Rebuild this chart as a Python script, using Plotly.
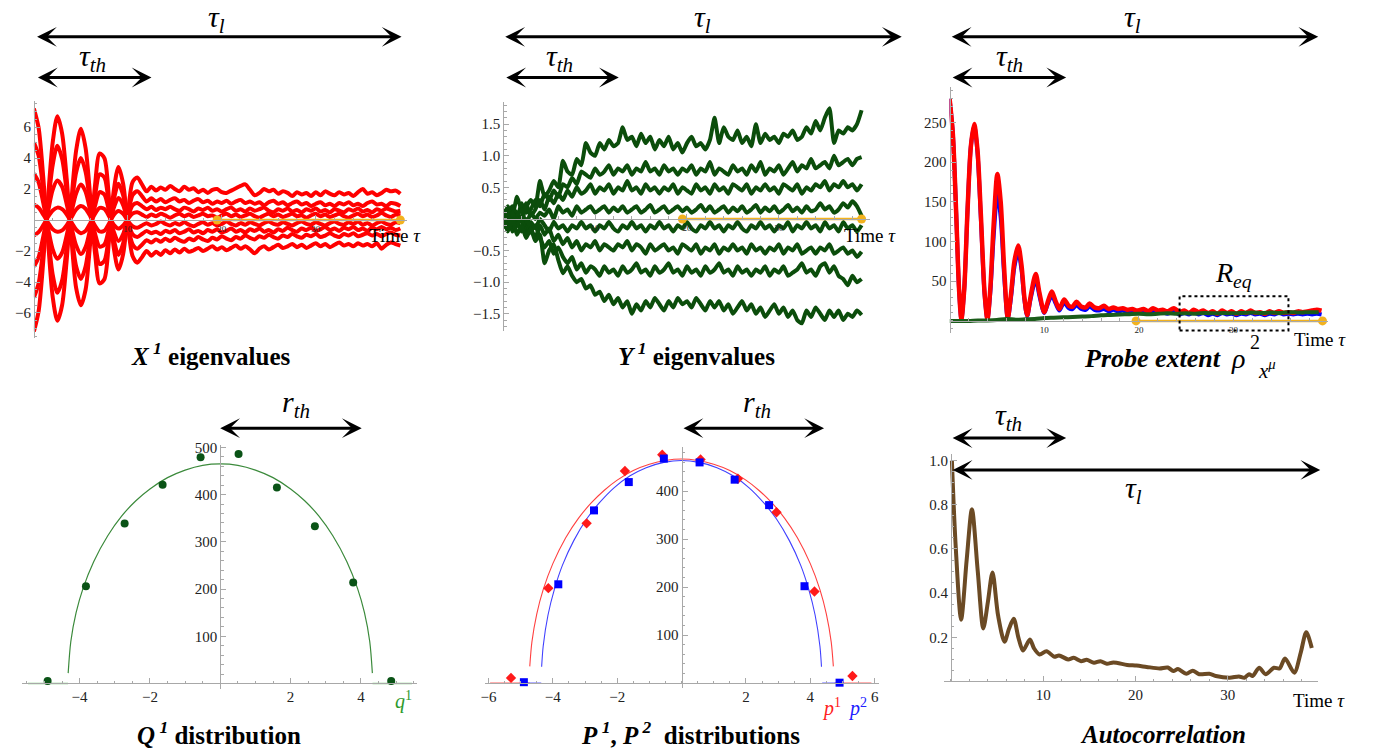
import plotly.graph_objects as go

# ---------------- data ----------------
T_X = [i * 0.5 for i in range(79)]          # sample times for X and Y eigenvalue curves

X1 = [7.2, 5.96, 2.73, -1.29, -4.96, -6.5, -5.5, -2.52, 1.30, 4.5, 5.9, 4.65, 1.46, -2.11, -4.09, -3.82, -1.28, 1.9, 3.43, 2.34, -0.31, -2.32,
      -2.75, -2.4, -2.0, -2.3, -2.05, -2.25, -1.95, -2.15, -1.9, -2.1,
      -1.85, -2.05, -1.95, -1.8, -2.0, -1.85, -1.7, -1.9, -1.75, -1.95,
      -1.8, -1.65, -1.85, -1.7, -1.9, -2.15, -1.85, -1.7, -1.9, -1.75,
      -1.6, -1.8, -1.7, -1.55, -1.75, -1.6, -1.8, -1.65, -1.5, -1.7,
      -1.55, -1.75, -1.6, -1.45, -1.65, -1.55, -1.7, -1.5, -1.65, -1.55,
      -1.7, -1.5, -1.85, -1.6, -1.45, -1.55, -1.65]
X2 = [-7.2, -5.9, -2.65, 1.35, 5.0, 6.7, 5.6, 2.6, -1.25, -4.4, -5.5, -4.5, -1.4, 2.2, 4.3, 4.0, 1.35, -1.8, -3.2, -2.2, 0.35, 2.45,
      2.75, 2.3, 1.85, 2.15, 1.9, 2.1, 1.95, 2.2, 2.0, 1.85,
      2.15, 1.95, 2.05, 1.8, 1.95, 1.75, 1.95, 2.0, 1.8, 1.75,
      1.9, 2.05, 2.2, 2.3, 1.95, 1.6, 1.75, 2.0, 1.85, 1.95,
      1.7, 1.85, 1.75, 1.55, 1.8, 1.65, 1.75, 1.55, 1.8, 1.6,
      1.85, 1.7, 1.6, 1.8, 1.65, 1.75, 1.55, 1.8, 2.0, 1.7,
      1.8, 1.6, 1.75, 1.95, 1.85, 1.9, 1.7]
X3 = [5.0, 4.16, 1.91, -0.91, -3.52, -4.7, -3.91, -1.76, 0.89, 3.08, 4.0, 3.11, 0.98, -1.43, -2.84, -2.64, -0.88, 1.3, 2.35, 1.6, -0.2, -1.56,
      -1.85, -1.6, -1.3, -1.45, -1.25, -1.4, -1.2, -1.35, -1.15, -1.3,
      -1.4, -1.2, -1.3, -1.1, -1.25, -1.35, -1.15, -1.25, -1.05, -1.2,
      -1.3, -1.1, -1.2, -1.0, -1.15, -1.25, -1.05, -1.15, -0.95, -1.1,
      -1.2, -1.0, -1.1, -0.9, -1.05, -1.15, -0.95, -1.05, -0.9, -1.1,
      -1.0, -0.85, -1.0, -1.1, -0.9, -1.0, -0.85, -1.05, -0.95, -0.85,
      -1.0, -0.9, -1.05, -0.9, -0.8, -0.95, -1.0]
X4 = [-5.0, -4.1, -1.85, 0.95, 3.55, 4.8, 3.95, 1.8, -0.85, -3.0, -3.8, -3.0, -0.95, 1.5, 2.95, 2.75, 0.92, -1.25, -2.25, -1.5, 0.22, 1.6,
      1.85, 1.55, 1.2, 1.4, 1.2, 1.35, 1.15, 1.3, 1.4, 1.2,
      1.3, 1.1, 1.25, 1.35, 1.15, 1.25, 1.05, 1.2, 1.1, 1.25,
      1.05, 1.2, 1.3, 1.1, 1.2, 1.05, 1.15, 0.95, 1.15, 1.25,
      1.05, 1.15, 0.95, 1.1, 1.2, 1.0, 1.1, 0.9, 1.05, 1.15,
      0.95, 1.05, 0.9, 1.1, 1.0, 1.15, 0.95, 1.05, 0.9, 1.1,
      1.2, 1.0, 1.05, 0.9, 1.1, 1.05, 0.9]
X5 = [3.0, 2.44, 1.09, -0.5, -1.89, -2.5, -2.11, -0.96, 0.49, 1.73, 2.3, 1.83, 0.57, -0.86, -1.72, -1.59, -0.53, 0.78, 1.42, 0.96, -0.12, -0.92,
      -1.1, -0.9, -0.7, -0.85, -0.75, -0.9, -0.7, -0.8, -0.65, -0.85,
      -0.75, -0.6, -0.8, -0.7, -0.85, -0.65, -0.75, -0.6, -0.8, -0.7,
      -0.55, -0.75, -0.65, -0.8, -0.6, -0.7, -0.55, -0.75, -0.65, -0.8,
      -0.6, -0.7, -0.5, -0.65, -0.75, -0.55, -0.65, -0.5, -0.7, -0.6,
      -0.45, -0.65, -0.55, -0.7, -0.5, -0.6, -0.45, -0.65, -0.55, -0.7,
      -0.5, -0.6, -0.45, -0.6, -0.5, -0.65, -0.55]
X6 = [-3.0, -2.4, -1.05, 0.52, 1.95, 2.55, 2.15, 1.0, -0.45, -1.65, -2.2, -1.75, -0.55, 0.9, 1.8, 1.65, 0.55, -0.75, -1.35, -0.9, 0.15, 0.95,
      1.1, 0.9, 0.7, 0.85, 0.65, 0.8, 0.7, 0.85, 0.7, 0.6,
      0.8, 0.7, 0.55, 0.75, 0.65, 0.8, 0.6, 0.7, 0.55, 0.7,
      0.8, 0.6, 0.7, 0.55, 0.75, 0.6, 0.7, 0.8, 0.6, 0.5,
      0.7, 0.6, 0.75, 0.55, 0.65, 0.5, 0.7, 0.6, 0.75, 0.55,
      0.65, 0.5, 0.7, 0.6, 0.5, 0.7, 0.6, 0.75, 0.55, 0.65,
      0.5, 0.7, 0.6, 0.75, 0.65, 0.55, 0.6]
X7 = [1.0, 0.8, 0.35, -0.16, -0.59, -0.75, -0.67, -0.33, 0.18, 0.68, 0.9, 0.73, 0.24, -0.36, -0.74, -0.69, -0.22, 0.33, 0.59, 0.4, -0.05, -0.4,
      -0.5, -0.35, -0.2, -0.35, -0.25, -0.1, -0.25, -0.35, -0.2, -0.3,
      -0.15, -0.3, -0.4, -0.25, -0.15, -0.3, -0.2, -0.35, -0.25, -0.1,
      -0.25, -0.35, -0.2, -0.3, -0.15, -0.25, -0.35, -0.2, -0.1, -0.25,
      -0.3, -0.15, -0.25, -0.35, -0.2, -0.1, -0.25, -0.3, -0.15, -0.25,
      -0.35, -0.2, -0.1, -0.25, -0.3, -0.15, -0.25, -0.1, -0.3, -0.2,
      -0.35, -0.2, -0.1, -0.25, -0.3, -0.15, -0.2]
X8 = [-1.0, -0.78, -0.33, 0.2, 0.62, 0.8, 0.7, 0.35, -0.15, -0.62, -0.85, -0.7, -0.2, 0.4, 0.78, 0.72, 0.25, -0.3, -0.55, -0.35, 0.08, 0.42,
      0.5, 0.35, 0.2, 0.35, 0.25, 0.4, 0.3, 0.15, 0.3, 0.4,
      0.25, 0.35, 0.2, 0.3, 0.4, 0.25, 0.3, 0.15, 0.3, 0.4,
      0.25, 0.35, 0.2, 0.3, 0.4, 0.25, 0.15, 0.3, 0.4, 0.25,
      0.35, 0.2, 0.3, 0.4, 0.25, 0.3, 0.15, 0.3, 0.4, 0.25,
      0.35, 0.2, 0.3, 0.4, 0.25, 0.15, 0.3, 0.4, 0.25, 0.35,
      0.2, 0.3, 0.45, 0.3, 0.2, 0.35, 0.3]

Y1 = [0.05, 0.15, 0.05, 0.35, 0.15, 0.2, 0.3, 0.2, 0.6, 0.35,
      0.45, 0.6, 0.5, 0.92, 0.75, 0.7, 0.95, 0.85, 1.2, 1.05,
      1.0, 1.2, 1.1, 1.25, 1.15, 1.2, 1.45, 1.25, 1.3, 1.15,
      1.35, 1.2, 1.3, 1.1, 1.25, 1.15, 1.3, 1.1, 1.2, 1.05,
      1.2, 1.3, 1.15, 1.2, 1.1, 1.25, 1.6, 1.2, 1.45, 1.3,
      1.25, 1.4, 1.2, 1.3, 1.15, 1.5, 1.2, 1.35, 1.25, 1.3,
      1.2, 1.35, 1.3, 1.4, 1.25, 1.3, 1.45, 1.35, 1.55, 1.4,
      1.6, 1.75, 1.2, 1.4, 1.35, 1.45, 1.4, 1.5, 1.72]
Y2 = [-0.05, 0.1, 0.2, 0.0, 0.25, 0.1, 0.15, 0.3, 0.2, 0.4,
      0.3, 0.45, 0.35, 0.55, 0.5, 0.65, 0.55, 0.75, 0.7, 0.65,
      0.8, 0.7, 0.75, 0.85, 0.7, 0.8, 0.75, 0.85, 0.7, 0.8,
      0.75, 0.9, 0.75, 0.8, 0.7, 0.85, 0.75, 0.8, 0.7, 0.8,
      0.75, 0.85, 0.7, 0.8, 0.75, 0.9, 0.7, 0.8, 0.75, 0.7,
      0.85, 0.75, 0.8, 0.7, 0.85, 0.75, 0.9, 0.7, 0.8, 0.75,
      0.85, 0.7, 0.8, 0.9, 0.75, 0.85, 0.8, 0.95, 0.8, 0.85,
      0.9, 0.8, 1.0, 0.85, 0.9, 0.95, 0.85, 0.95, 0.98]
Y3 = [0.1, -0.05, 0.15, 0.1, -0.05, 0.25, 0.05, 0.15, 0.3, 0.15,
      0.35, 0.25, 0.4, 0.3, 0.45, 0.35, 0.5, 0.4, 0.45, 0.55,
      0.4, 0.5, 0.45, 0.55, 0.4, 0.5, 0.45, 0.6, 0.45, 0.5,
      0.4, 0.55, 0.45, 0.5, 0.4, 0.5, 0.45, 0.55, 0.4, 0.5,
      0.45, 0.4, 0.55, 0.45, 0.5, 0.4, 0.55, 0.45, 0.5, 0.4,
      0.55, 0.5, 0.45, 0.55, 0.4, 0.5, 0.45, 0.55, 0.45, 0.5,
      0.4, 0.55, 0.5, 0.45, 0.55, 0.4, 0.5, 0.45, 0.55, 0.5,
      0.6, 0.45, 0.55, 0.5, 0.6, 0.5, 0.55, 0.45, 0.55]
Y4 = [-0.1, 0.2, -0.1, 0.05, 0.15, -0.1, 0.1, 0.0, 0.1, 0.05,
      0.15, 0.0, 0.2, 0.1, 0.15, 0.05, 0.2, 0.1, 0.15, 0.2,
      0.1, 0.15, 0.2, 0.1, 0.18, 0.12, 0.2, 0.1, 0.15, 0.2,
      0.1, 0.15, 0.22, 0.1, 0.15, 0.2, 0.1, 0.15, 0.2, 0.12,
      0.18, 0.1, 0.15, 0.22, 0.12, 0.2, 0.1, 0.15, 0.2, 0.1,
      0.18, 0.12, 0.2, 0.1, 0.15, 0.22, 0.1, 0.18, 0.12, 0.2,
      0.1, 0.15, 0.22, 0.12, 0.18, 0.1, 0.2, 0.12, 0.15, 0.25,
      0.15, 0.2, 0.1, 0.15, 0.25, 0.18, 0.28, 0.2, 0.05]
Y5 = [0.0, -0.15, 0.1, -0.1, 0.05, -0.2, -0.05, -0.15, 0.0, -0.1,
      -0.2, -0.05, -0.15, -0.1, -0.2, -0.1, -0.15, -0.05, -0.15, -0.1,
      -0.2, -0.1, -0.15, -0.05, -0.15, -0.2, -0.1, -0.15, -0.05, -0.15,
      -0.1, -0.2, -0.1, -0.15, -0.05, -0.15, -0.1, -0.2, -0.1, -0.15,
      -0.05, -0.15, -0.2, -0.1, -0.15, -0.05, -0.15, -0.1, -0.2, -0.1,
      -0.15, -0.05, -0.15, -0.2, -0.1, -0.15, -0.05, -0.15, -0.1, -0.2,
      -0.1, -0.15, -0.05, -0.2, -0.1, -0.15, -0.05, -0.15, -0.1, -0.2,
      -0.05, -0.15, -0.1, -0.2, -0.05, -0.15, -0.1, -0.2, -0.1]
Y6 = [0.15, 0.0, -0.15, -0.05, -0.2, 0.0, -0.15, -0.3, -0.1, -0.25,
      -0.15, -0.35, -0.25, -0.4, -0.3, -0.45, -0.35, -0.5, -0.4, -0.45,
      -0.35, -0.5, -0.4, -0.45, -0.5, -0.4, -0.45, -0.35, -0.5, -0.4,
      -0.45, -0.55, -0.4, -0.5, -0.45, -0.4, -0.5, -0.45, -0.55, -0.4,
      -0.45, -0.5, -0.4, -0.55, -0.45, -0.5, -0.4, -0.55, -0.45, -0.5,
      -0.4, -0.5, -0.45, -0.55, -0.4, -0.5, -0.45, -0.55, -0.45, -0.5,
      -0.4, -0.55, -0.45, -0.5, -0.4, -0.55, -0.5, -0.45, -0.55, -0.45,
      -0.5, -0.4, -0.55, -0.5, -0.45, -0.55, -0.5, -0.6, -0.52]
Y7 = [-0.15, 0.1, -0.2, -0.1, 0.0, -0.25, -0.2, -0.1, -0.3, -0.45,
      -0.35, -0.55, -0.45, -0.6, -0.7, -0.6, -0.8, -0.7, -0.85, -0.75,
      -0.8, -0.9, -0.75, -0.85, -0.8, -0.9, -0.75, -0.85, -0.8, -0.7,
      -0.85, -0.8, -0.9, -0.75, -0.85, -0.8, -0.7, -0.85, -0.8, -0.9,
      -0.75, -0.85, -0.8, -0.9, -0.75, -0.85, -0.8, -0.7, -0.85, -0.8,
      -0.9, -0.75, -0.85, -0.8, -0.9, -0.8, -0.85, -0.75, -0.9, -0.8,
      -0.85, -0.75, -0.9, -0.85, -0.8, -0.7, -0.85, -0.8, -0.9, -0.75,
      -0.7, -0.85, -0.75, -0.9, -0.95, -1.05, -0.9, -1.0, -0.95]
Y8 = [0.1, -0.2, 0.0, -0.25, -0.1, -0.3, -0.15, -0.35, -0.25, -0.7,
      -0.5, -0.4, -0.65, -0.86, -0.75, -0.9, -1.0, -0.95, -1.1, -1.05,
      -1.2, -1.15, -1.3, -1.2, -1.35, -1.25, -1.4, -1.3, -1.5, -1.35,
      -1.45, -1.3, -1.4, -1.25, -1.35, -1.45, -1.3, -1.4, -1.25, -1.35,
      -1.3, -1.4, -1.25, -1.35, -1.45, -1.3, -1.4, -1.3, -1.45, -1.35,
      -1.5, -1.4, -1.3, -1.45, -1.35, -1.5, -1.4, -1.55, -1.45, -1.35,
      -1.5, -1.4, -1.55, -1.45, -1.6, -1.65, -1.45, -1.55, -1.4, -1.5,
      -1.6, -1.45, -1.55, -1.45, -1.6, -1.5, -1.55, -1.45, -1.52]

YELLOW_T12 = [19.5, 39.0]
YELLOW_T3 = [19.7, 39.4]

T_PROBE = [0, 0.35, 0.7, 1.0, 1.25, 1.55, 1.9, 2.25, 2.6, 2.95, 3.3, 3.7, 4.0, 4.3, 4.65,
           5.05, 5.4, 5.75, 6.15, 6.5, 6.85, 7.25, 7.6, 7.9, 8.2, 8.55, 9.1, 9.5, 10.0, 10.4,
           10.8, 11.2, 11.6, 12.1, 12.6, 13.0, 13.4, 13.9, 14.4, 14.8, 15.3, 15.8, 16.3, 16.8, 17.3,
           17.8, 18.3, 18.8, 19.3, 19.8, 20.5, 21.0, 21.5, 22.0, 22.5, 23.0, 23.7, 24.3, 24.8, 25.3,
           25.8, 26.3, 26.8, 27.3, 27.8, 28.3, 28.8, 29.3, 29.8, 30.3, 30.8, 31.3, 31.8, 32.3, 32.8,
           33.3, 33.8, 34.3, 34.8, 35.3, 35.8, 36.3, 36.8, 37.3, 37.8, 38.3, 38.8, 39.3]
PROBE_RED = [280, 235, 135, 40, 2, 40, 140, 220, 248, 215, 135, 35, 2, 40, 120,
             185, 150, 70, 4, 35, 75, 95, 70, 30, 7, 30, 59, 35, 11, 25,
             37, 25, 15, 27, 19, 18, 24, 18, 17, 22, 17, 16, 19, 15, 17,
             15, 16, 14, 15, 13, 15, 12, 16, 13, 14, 12, 16, 11, 13, 10,
             14, 11, 13, 10, 12, 9, 13, 10, 12, 9, 12, 10, 13, 10, 11,
             9, 12, 10, 12, 10, 11, 10, 12, 11, 12, 13, 14, 13]
PROBE_BLUE = [280, 235, 135, 40, 2, 40, 140, 220, 246, 212, 130, 33, 2, 35, 105,
              160, 130, 60, 3, 30, 68, 87, 64, 27, 6, 27, 52, 31, 10, 22,
              32, 22, 13, 23, 16, 15, 20, 15, 14, 18, 14, 13, 15, 12, 14,
              12, 13, 11, 12, 10, 12, 9, 12, 10, 11, 9, 12, 8, 10, 8,
              11, 8, 10, 7, 9, 7, 10, 8, 9, 7, 9, 8, 10, 8, 9,
              7, 9, 8, 10, 8, 9, 8, 9, 8, 9, 8, 9, 8]
T_GREEN = list(range(40))
PROBE_GREEN = [0, 0, 0, 0.5, 0.5, 1, 2.5, 1.5, 2, 2.5, 3.5, 4, 4.5, 5, 5.5, 6, 7, 7.5, 8, 8.5,
               9, 8.5, 9, 9.5, 9, 9.5, 9, 10, 9.5, 10, 9.5, 10, 10.5, 10, 10.5, 10, 11, 10.5, 11, 11]
REQ_BOX_T = [24.3, 35.8]
REQ_BOX_V = [-12, 31]

Q_X = [-4.91, -3.82, -2.72, -1.64, -0.56, 0.52, 1.61, 2.69, 3.78, 4.86]
Q_Y = [5, 206, 339, 421, 479, 486, 415, 333, 214, 5]
QFIT_X = [-4.325, -4.25, -4.1, -3.9, -3.6, -3.2, -2.8, -2.4, -2.0, -1.5, -1.0, -0.5, 0,
          0.5, 1.0, 1.5, 2.0, 2.4, 2.8, 3.2, 3.6, 3.9, 4.1, 4.25, 4.325]
QFIT_Y = [22, 89, 150, 202, 258, 313, 355, 387, 412, 436, 452, 462, 465,
          462, 452, 436, 412, 387, 355, 313, 258, 202, 150, 89, 22]
QFLAT_L = [-5.47, -4.33]
QFLAT_R = [4.33, 5.45]

P1_X = [-5.3, -4.14, -2.95, -1.76, -0.6, 0.59, 1.75, 2.95, 4.13, 5.31]
P1_Y = [11, 198, 333, 442, 476, 466, 426, 356, 191, 15]
P2_X = [-4.9, -3.83, -2.72, -1.64, -0.55, 0.56, 1.65, 2.72, 3.82, 4.91]
P2_Y = [2, 206, 360, 419, 468, 460, 424, 371, 202, 1]
P1FIT_X = [-4.717, -4.65, -4.5, -4.3, -4.0, -3.6, -3.2, -2.8, -2.4, -2.0, -1.5, -1.0, -0.5, 0,
           0.5, 1.0, 1.5, 2.0, 2.4, 2.8, 3.2, 3.6, 4.0, 4.3, 4.5, 4.65, 4.717]
P1FIT_Y = [35, 86, 144, 195, 249, 303, 344, 376, 402, 423, 443, 456, 464, 467,
           464, 456, 443, 423, 402, 376, 344, 303, 249, 195, 144, 86, 35]
P2FIT_X = [-4.348, -4.3, -4.15, -3.95, -3.7, -3.35, -2.95, -2.55, -2.1, -1.6, -1.1, -0.55, 0,
           0.55, 1.1, 1.6, 2.1, 2.55, 2.95, 3.35, 3.7, 3.95, 4.15, 4.3, 4.348]
P2FIT_Y = [34, 77, 142, 196, 246, 297, 342, 376, 407, 432, 449, 460, 464,
           460, 449, 432, 407, 376, 342, 297, 246, 196, 142, 77, 34]
P1FLAT_L = [-5.95, -4.72]
P1FLAT_R = [4.75, 5.9]
P2FLAT_L = [-4.95, -4.36]
P2FLAT_R = [4.37, 5.0]

T_AC = [0.1, 0.5, 1.1, 1.7, 2.27, 2.9, 3.5, 4.0, 4.5, 5.1, 5.8, 6.3, 6.8, 7.3, 7.8,
        8.55, 9.0, 9.6, 10.35, 11.2, 11.7, 12.7, 13.3, 14.1, 14.7, 15.5, 16.2, 16.9, 17.6, 19.1,
        20.1, 21.2, 22.6, 23.5, 24.1, 24.6, 25.5, 26.2, 26.9, 28.0, 28.7, 30.2, 31.2, 31.8, 32.3,
        32.7, 33.4, 34.1, 35.0, 35.6, 36.2, 37.2, 37.9, 38.5, 39.1]
AC = [1.0, 0.62, 0.28, 0.55, 0.78, 0.5, 0.24, 0.36, 0.494, 0.3, 0.18, 0.24, 0.284, 0.2, 0.14,
      0.19, 0.15, 0.122, 0.137, 0.112, 0.118, 0.1, 0.107, 0.092, 0.098, 0.085, 0.092, 0.08, 0.086, 0.075,
      0.072, 0.066, 0.059, 0.063, 0.047, 0.056, 0.035, 0.049, 0.033, 0.035, 0.025, 0.017, 0.023, 0.017, 0.033,
      0.025, 0.062, 0.033, 0.062, 0.059, 0.104, 0.04, 0.13, 0.223, 0.152]

# ---------------- layout helpers ----------------
W, H = 1383, 753
def PX(x): return x / W
def PY(y): return 1 - y / H

SERIF = "Liberation Serif"
AXC = "#a8a8a8"

panels = {
    1: dict(x=(29, 403), xr=(0, 39.66), y=(97, 335), yr=(-7.6, 7.66)),
    2: dict(x=(500, 868), xr=(0, 39.9), y=(98, 328), yr=(-1.77, 1.845)),
    3: dict(x=(948, 1328), xr=(0, 40.0), y=(83, 330), yr=(-15, 294)),
    4: dict(x=(17, 413), xr=(-5.64, 5.58), y=(443, 689), yr=(-12.6, 505)),
    5: dict(x=(482, 877), xr=(-6.1, 6.13), y=(445, 688), yr=(-11, 492)),
    6: dict(x=(942, 1318), xr=(-0.8, 39.8), y=(452, 681), yr=(0, 1.03)),
}

fig = go.Figure()

def set_axes(i, xtv, xtt, xfs, xminor, ytv, ytt, yfs, yminor):
    p = panels[i]
    xd = [PX(p['x'][0]), PX(p['x'][1])]
    yd = [PY(p['y'][1]), PY(p['y'][0])]
    xr, yr = p['xr'], p['yr']
    xpos = yd[0] + (0 - yr[0]) / (yr[1] - yr[0]) * (yd[1] - yd[0])
    ypos = xd[0] + (0 - xr[0]) / (xr[1] - xr[0]) * (xd[1] - xd[0])
    common = dict(showgrid=False, zeroline=False, showline=True, linecolor=AXC, linewidth=1,
                  ticks='inside', ticklen=5, tickcolor=AXC, tickwidth=1, anchor='free',
                  fixedrange=True, tickmode='array')
    xa = dict(common, domain=xd, range=list(xr), position=xpos, tickvals=xtv, ticktext=xtt,
              tickfont=dict(family=SERIF, size=xfs, color='#222'),
              minor=dict(ticks='inside', ticklen=2.5, tickcolor=AXC, dtick=xminor, tick0=0))
    ya = dict(common, domain=yd, range=list(yr), position=ypos, tickvals=ytv, ticktext=ytt,
              tickfont=dict(family=SERIF, size=yfs, color='#222'),
              minor=dict(ticks='inside', ticklen=2.5, tickcolor=AXC, dtick=yminor, tick0=0))
    sfx = '' if i == 1 else str(i)
    fig.update_layout(**{'xaxis' + sfx: xa, 'yaxis' + sfx: ya})

set_axes(1, [10, 20, 30], ['10', '20', '30'], 9, 2,
         [-6, -4, -2, 2, 4, 6], ['−6', '−4', '−2', '2', '4', '6'], 15, 0.5)
set_axes(2, [10, 20, 30], ['10', '20', '30'], 9, 2,
         [-1.5, -1, -0.5, 0.5, 1, 1.5], ['−1.5', '−1.0', '−0.5', '0.5', '1.0', '1.5'], 15, 0.1)
set_axes(3, [10, 20, 30], ['10', '20', '30'], 9, 2,
         [50, 100, 150, 200, 250], ['50', '100', '150', '200', '250'], 15, 10)
set_axes(4, [-4, -2, 2, 4], ['−4', '−2', '2', '4'], 15, 0.5,
         [100, 200, 300, 400, 500], ['100', '200', '300', '400', '500'], 15, 20)
set_axes(5, [-6, -4, -2, 2, 4, 6], ['−6', '−4', '−2', '2', '4', '6'], 15, 0.5,
         [100, 200, 300, 400], ['100', '200', '300', '400'], 15, 20)
set_axes(6, [10, 20, 30], ['10', '20', '30'], 15, 2,
         [0.2, 0.4, 0.6, 0.8, 1.0], ['0.2', '0.4', '0.6', '0.8', '1.0'], 15, 0.05)

def line(x, y, ax, color, width, spline=True, dash=None, smoothing=0.8):
    fig.add_trace(go.Scatter(x=x, y=y, mode='lines', xaxis='x' + ax, yaxis='y' + ax,
                             line=dict(color=color, width=width, shape='spline' if spline else 'linear',
                                       smoothing=smoothing, dash=dash),
                             hoverinfo='skip', showlegend=False))

def dots(x, y, ax, color, symbol, size):
    fig.add_trace(go.Scatter(x=x, y=y, mode='markers', xaxis='x' + ax, yaxis='y' + ax,
                             marker=dict(color=color, symbol=symbol, size=size, line=dict(width=0)),
                             cliponaxis=False, hoverinfo='skip', showlegend=False))

YEL = '#f2b21e'
def yellow(ts, ax):
    fig.add_trace(go.Scatter(x=ts, y=[0, 0], mode='lines+markers', xaxis='x' + ax, yaxis='y' + ax,
                             line=dict(color=YEL, width=2.5), marker=dict(color=YEL, size=9),
                             cliponaxis=False, hoverinfo='skip', showlegend=False))

# panel 1
for c in [X1, X2, X3, X4, X5, X6, X7, X8]:
    line(T_X, c, '', '#ff0000', 4)
yellow(YELLOW_T12, '')
# panel 2
for c in [Y1, Y2, Y3, Y4, Y5, Y6, Y7, Y8]:
    line(T_X, c, '2', '#0b4d0b', 4, smoothing=0.5)
yellow(YELLOW_T12, '2')
# panel 3
line(T_PROBE, PROBE_BLUE, '3', '#0000ff', 4)
line(T_PROBE, PROBE_RED, '3', '#ff0000', 4.5)
line(T_GREEN, PROBE_GREEN, '3', '#1a5c1a', 4)
yellow(YELLOW_T3, '3')
fig.add_shape(type='rect', xref='x3', yref='y3', x0=REQ_BOX_T[0], x1=REQ_BOX_T[1],
              y0=REQ_BOX_V[0], y1=REQ_BOX_V[1], line=dict(color='black', width=2, dash='dot'))
# panel 4
line(QFLAT_L, [0, 0], '4', '#7fd07f', 1.5, spline=False)
line(QFLAT_R, [0, 0], '4', '#7fd07f', 1.5, spline=False)
line(QFIT_X, QFIT_Y, '4', '#3b8a3b', 1.2)
dots(Q_X, Q_Y, '4', '#0a5316', 'circle', 8)
# panel 5
line(P1FLAT_L, [0, 0], '5', '#ff6060', 1.2, spline=False)
line(P1FLAT_R, [0, 0], '5', '#ff6060', 1.2, spline=False)
line(P2FLAT_L, [0, 0], '5', '#6060ff', 1.2, spline=False)
line(P2FLAT_R, [0, 0], '5', '#6060ff', 1.2, spline=False)
line(P1FIT_X, P1FIT_Y, '5', '#ff4040', 1.1)
line(P2FIT_X, P2FIT_Y, '5', '#4040ff', 1.1)
dots(P1_X, P1_Y, '5', '#ff1a1a', 'diamond', 8)
dots(P2_X, P2_Y, '5', '#0000ff', 'square', 8)
# panel 6
line(T_AC, AC, '6', '#6b4a24', 4)

# ---------------- annotations ----------------
ann = []
def text(x, y, s, size, color='black', xanchor='center'):
    ann.append(dict(x=PX(x), y=PY(y), xref='paper', yref='paper', text=s, showarrow=False,
                    xanchor=xanchor, yanchor='middle', font=dict(family=SERIF, size=size, color=color)))

def darrow(x0, x1, y):
    ann.append(dict(x=PX(x1), y=PY(y), xref='paper', yref='paper', text='', showarrow=True,
                    ax=x0 - x1, ay=0, arrowside='end+start', arrowhead=3, startarrowhead=3,
                    arrowsize=1.1, startarrowsize=1.1, arrowwidth=3, arrowcolor='black'))

TAU_L = '<i>τ<sub>l</sub></i>'
TAU_TH = '<i>τ<sub>th</sub></i>'
R_TH = '<i>r<sub>th</sub></i>'

# top row arrows
darrow(32, 398, 32); text(212, 14, TAU_L, 30); darrow(32, 147, 73); text(88, 53, TAU_TH, 30)
darrow(502, 900, 32); text(700, 14, TAU_L, 30); darrow(502, 616, 73); text(557, 53, TAU_TH, 30)
darrow(950, 1318, 32); text(1132, 14, TAU_L, 30); darrow(950, 1065, 73); text(1008, 53, TAU_TH, 30)
# bottom row arrows
darrow(215, 358, 426); text(292, 402, R_TH, 30)
darrow(680, 822, 426); text(755, 402, R_TH, 30)
darrow(950, 1065, 436); text(1007, 415, TAU_TH, 30)
darrow(951, 1320, 468); text(1133, 488, TAU_L, 30)

# time labels
text(391, 232, 'Time <i>τ</i>', 19)
text(868, 232, 'Time <i>τ</i>', 19)
text(1320, 337, 'Time <i>τ</i>', 19)
text(1319, 700, 'Time <i>τ</i>', 19)

# titles
text(207, 351, '<b><i>X</i><sup><i> 1</i></sup> eigenvalues</b>', 25)
text(694, 351, '<b><i>Y</i><sup><i> 1</i></sup> eigenvalues</b>', 25)
text(1152, 356, '<b><i>Probe extent</i></b>', 26)
text(1237, 356, '<i>ρ</i>', 28)
text(1255, 339, '2', 20)
text(1267, 367, '<i>x<sup>μ</sup></i>', 21)
text(215, 733, '<b><i>Q</i><sup><i> 1</i></sup> distribution</b>', 25)
text(688, 733, '<b><i>P</i><sup><i> 1</i></sup>, <i>P</i><sup><i> 2</i></sup>  distributions</b>', 25)
text(1162, 734, '<b><i>Autocorrelation</i></b>', 25)

# misc labels
text(1233, 271, '<i>R<sub>eq</sub></i>', 28)
text(400, 700, '<i>q</i><sup>1</sup>', 20, color='#2e9a2e')
text(830, 707, '<i>p</i><sup>1</sup>', 20, color='#ff2020')
text(856, 707, '<i>p</i><sup>2</sup>', 20, color='#2020ff')

fig.update_layout(width=W, height=H, margin=dict(l=0, r=0, t=0, b=0),
                  paper_bgcolor='white', plot_bgcolor='white', annotations=ann,
                  showlegend=False)

fig.write_html("out.html", config={'displayModeBar': False},
               post_script="document.body.style.margin='0';document.body.style.overflow='hidden';")
